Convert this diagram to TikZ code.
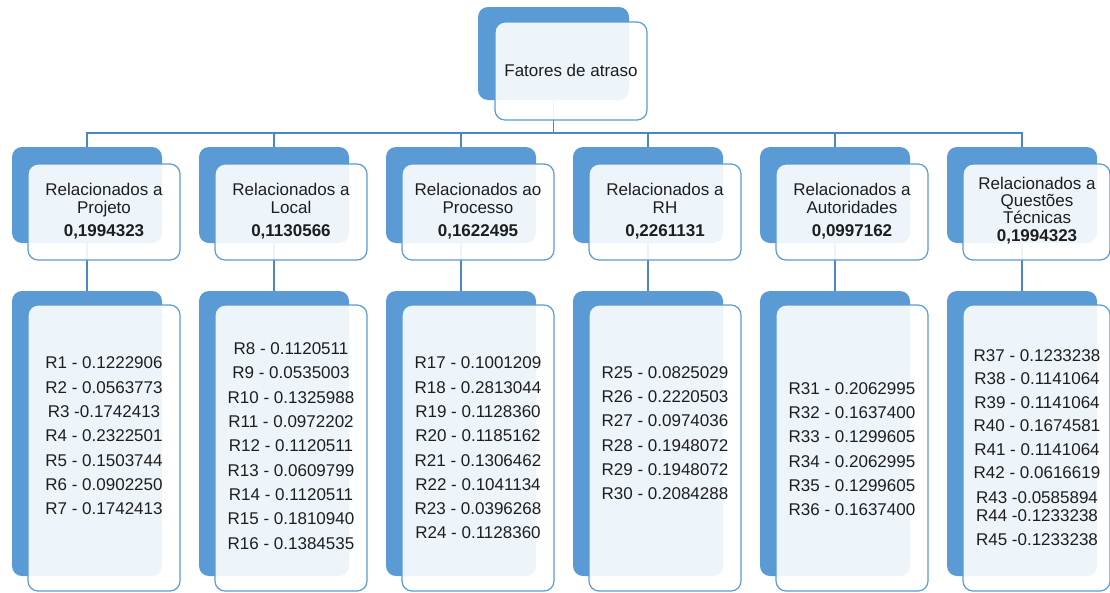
\documentclass[tikz,border=0pt]{standalone}
\usepackage{fontspec}
\setmainfont{Liberation Sans}
\usetikzlibrary{backgrounds}
\definecolor{boxblue}{HTML}{5B9BD5}
\definecolor{lineblue}{HTML}{4A86C8}
\definecolor{txt}{HTML}{1E1E1E}
\tikzset{
  backbox/.style={fill=boxblue, rounded corners=10pt, inner sep=0pt, outer sep=0pt},
  frontbox/.style={draw=boxblue, line width=1.2pt, fill=white, fill opacity=0.9, rounded corners=10pt, inner sep=0pt, outer sep=0pt},
  conn/.style={draw=lineblue, line width=1.3pt},
  hdr/.style={align=center, text=txt, inner sep=0pt, font=\fontsize{17}{18}\selectfont},
  lst/.style={align=center, text=txt, inner sep=0pt, font=\fontsize{17}{24.3}\selectfont},
}
\begin{document}
\begin{tikzpicture}[x=1pt,y=-1pt]
\useasboundingbox (0,0) rectangle (1110,592);
\coordinate (bus) at (0,133);
% top node
\node[backbox, minimum width=151pt, minimum height=93pt] (tb) at (553.5,53.5) {};
% level 2 and 3 back boxes
\foreach \i/\bx in {1/12,2/199,3/386,4/573,5/760,6/947}{
  \node[backbox, minimum width=150pt, minimum height=96pt] (b2\i) at ({\bx+75},195) {};
  \node[backbox, minimum width=150pt, minimum height=285pt] (b3\i) at ({\bx+75},433.5) {};
}
% connectors
\begin{scope}[on background layer]
\foreach \i in {1,...,6}{
  \draw[conn] (tb.south) -- (tb.south |- bus) -| (b2\i.north);
  \draw[conn] (b2\i.south) -- (b3\i.north);
}
\end{scope}
% front boxes
\node[frontbox, minimum width=152pt, minimum height=98pt] (tf) at (571,71) {};
\foreach \i/\bx/\fw in {1/12/152,2/199/152,3/386/152,4/573/152,5/760/152,6/947/147}{
  \node[frontbox, minimum width=\fw pt, minimum height=96pt] (f2\i) at ({\bx+16+\fw/2},212) {};
  \node[frontbox, minimum width=\fw pt, minimum height=286pt] (f3\i) at ({\bx+16+\fw/2},448) {};
}
% texts
\node[hdr] (tt) at (571,70) {Fatores de atraso};
\node[hdr] (h1) at (104,211) {Relacionados a\\Projeto\\[5pt]\textbf{0,1994323}};
\node[hdr] (h2) at (291,211) {Relacionados a\\Local\\[5pt]\textbf{0,1130566}};
\node[hdr] (h3) at (478,211) {Relacionados ao\\Processo\\[5pt]\textbf{0,1622495}};
\node[hdr] (h4) at (665,211) {Relacionados a\\RH\\[5pt]\textbf{0,2261131}};
\node[hdr] (h5) at (852,211) {Relacionados a\\Autoridades\\[5pt]\textbf{0,0997162}};
\node[hdr, font=\fontsize{17}{17}\selectfont] (h6) at (1037,211) {Relacionados a\\Questões\\Técnicas\\[1pt]\textbf{0,1994323}};
\node[lst] (l1) at (104,436) {R1 - 0.1222906\\R2 - 0.0563773\\R3 -0.1742413\\R4 - 0.2322501\\R5 - 0.1503744\\R6 - 0.0902250\\R7 - 0.1742413};
\node[lst] (l2) at (291,446) {R8 - 0.1120511\\R9 - 0.0535003\\R10 - 0.1325988\\R11 - 0.0972202\\R12 - 0.1120511\\R13 - 0.0609799\\R14 - 0.1120511\\R15 - 0.1810940\\R16 - 0.1384535};
\node[lst] (l3) at (478,448) {R17 - 0.1001209\\R18 - 0.2813044\\R19 - 0.1128360\\R20 - 0.1185162\\R21 - 0.1306462\\R22 - 0.1041134\\R23 - 0.0396268\\R24 - 0.1128360};
\node[lst] (l4) at (665,433) {R25 - 0.0825029\\R26 - 0.2220503\\R27 - 0.0974036\\R28 - 0.1948072\\R29 - 0.1948072\\R30 - 0.2084288};
\node[lst] (l5) at (852,449) {R31 - 0.2062995\\R32 - 0.1637400\\R33 - 0.1299605\\R34 - 0.2062995\\R35 - 0.1299605\\R36 - 0.1637400};
\node[lst, font=\fontsize{17}{23.5}\selectfont] (l6) at (1037,447.5) {R37 - 0.1233238\\R38 - 0.1141064\\R39 - 0.1141064\\R40 - 0.1674581\\R41 - 0.1141064\\R42 - 0.0616619\\[1.5pt]R43 -0.0585894\\[-5.5pt]R44 -0.1233238\\R45 -0.1233238};
\end{tikzpicture}
\end{document}
